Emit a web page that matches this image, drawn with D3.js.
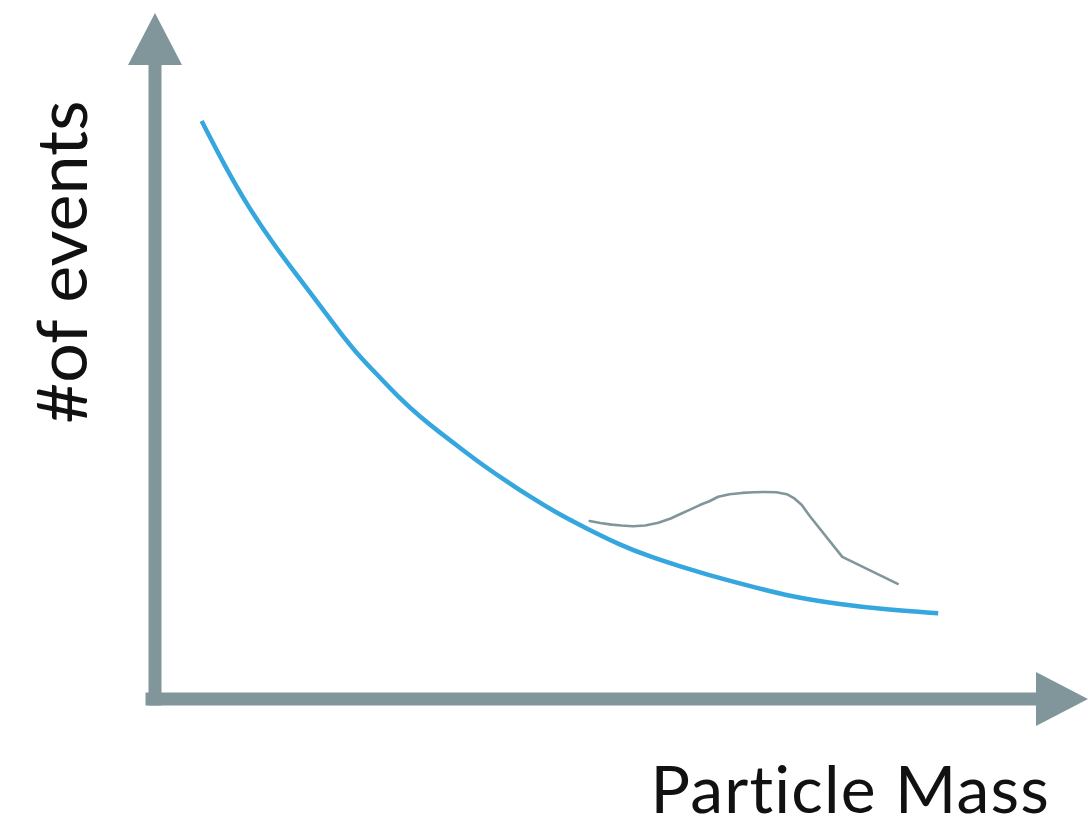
<!DOCTYPE html>
<html>
<head>
<meta charset="utf-8">
<script src="https://cdn.jsdelivr.net/npm/d3@7"></script>
<style>
  html, body { margin: 0; padding: 0; background: #ffffff; }
  svg { display: block; }
  .label { font-family: "Lato", "Open Sans", sans-serif; font-weight: 400; fill: #111; }
</style>
</head>
<body>
<script>
// Smooth background: particle mass vs. number of events
const backgroundMass   = [5.3, 8.0, 10.6, 13.3, 15.9, 18.8, 21.0, 23.3, 25.6, 27.8, 30.1, 32.4, 34.7, 36.9, 39.2, 42.6, 46.0, 49.4, 52.8, 56.3, 59.7, 63.1, 66.5, 72.2, 77.8, 83.5, 89.0];
const backgroundEvents = [90.3, 83.1, 76.9, 71.4, 66.6, 61.4, 57.3, 53.4, 50.2, 47.0, 44.1, 41.6, 39.2, 36.9, 34.7, 31.6, 28.8, 26.4, 24.1, 22.2, 20.7, 19.3, 18.05, 16.0, 14.8, 13.9, 13.4];

// Observed events with a bump over the background
const signalMass   = [49.4, 50.6, 51.9, 53.0, 54.3, 55.7, 57.2, 58.6, 59.7, 60.8, 61.9, 63.0, 64.0, 65.3, 66.7, 68.1, 69.3, 70.6, 71.8, 72.7, 73.5, 74.4, 78.1, 84.4];
const signalEvents = [27.8, 27.5, 27.25, 27.1, 27.0, 27.1, 27.55, 28.2, 28.9, 29.6, 30.3, 30.9, 31.6, 32.0, 32.2, 32.3, 32.35, 32.3, 32.0, 31.3, 30.3, 28.6, 22.2, 18.0];

const xLabel = "Particle Mass";
const yLabel = "#of events";

const width = 1088, height = 818;
const axisColor = "#80969a";
const curveColor = "#36a6de";

const x = d3.scaleLinear().domain([0, 100]).range([155, 1035]);
const y = d3.scaleLinear().domain([0, 100]).range([699, 59]);

const svg = d3.select("body").append("svg")
  .attr("width", width).attr("height", height);

// Axis arrows
const [x0] = x.range();
const [y0] = y.range();
const bar = 13, head = 27;
const xEnd = 1036, xTip = 1088;
const yEnd = 65, yTip = 13;

svg.append("path")
  .attr("fill", axisColor)
  .attr("d", [
    `M${x0 - bar / 2 - 3},${y0 + bar / 2}`,
    `L${x0 - bar / 2 - 3},${y0 - bar / 2}`,
    `L${xEnd},${y0 - bar / 2}`,
    `L${xEnd},${y0 - head}`,
    `L${xTip},${y0}`,
    `L${xEnd},${y0 + head}`,
    `L${xEnd},${y0 + bar / 2}`,
    "Z"
  ].join(""));

svg.append("path")
  .attr("fill", axisColor)
  .attr("d", [
    `M${x0 - bar / 2},${y0 + bar / 2}`,
    `L${x0 - bar / 2},${yEnd}`,
    `L${x0 - head},${yEnd}`,
    `L${x0},${yTip}`,
    `L${x0 + head},${yEnd}`,
    `L${x0 + bar / 2},${yEnd}`,
    `L${x0 + bar / 2},${y0 + bar / 2}`,
    "Z"
  ].join(""));

const bg = backgroundMass.map((m, i) => [m, backgroundEvents[i]]);
const sig = signalMass.map((m, i) => [m, signalEvents[i]]);

// Background: smooth spline through the readings
svg.append("path")
  .datum(bg)
  .attr("fill", "none")
  .attr("stroke", curveColor)
  .attr("stroke-width", 4.5)
  .attr("d", d3.line().x(d => x(d[0])).y(d => y(d[1])).curve(d3.curveBasis));

// Observed: polyline keeps the kinks of the bump
svg.append("path")
  .datum(sig)
  .attr("fill", "none")
  .attr("stroke", axisColor)
  .attr("stroke-width", 2.6)
  .attr("stroke-linejoin", "round")
  .attr("stroke-linecap", "round")
  .attr("d", d3.line().x(d => x(d[0])).y(d => y(d[1])));

// Axis titles
svg.append("text")
  .attr("class", "label")
  .attr("x", 1050).attr("y", 813)
  .attr("text-anchor", "end")
  .style("font-size", "66px")
  .style("letter-spacing", "1.2px")
  .text(xLabel);

svg.append("text")
  .attr("class", "label")
  .attr("transform", "translate(87,262) rotate(-90)")
  .attr("text-anchor", "middle")
  .style("font-size", "70px")
  .text(yLabel);
</script>
</body>
</html>
